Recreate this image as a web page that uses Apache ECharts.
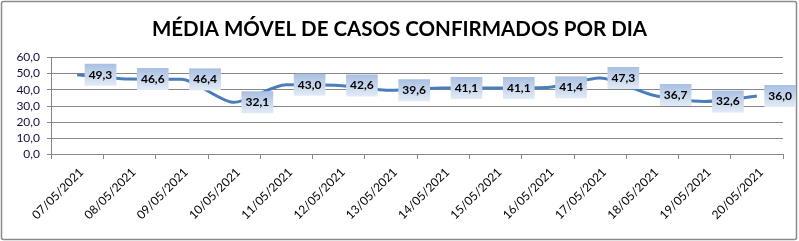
<!DOCTYPE html>
<html>
<head>
<meta charset="utf-8">
<script src="https://cdn.jsdelivr.net/npm/echarts@6/dist/echarts.min.js"></script>
<style>
html,body{margin:0;padding:0;background:#fff;}
#c{width:799px;height:241px;}
</style>
</head>
<body>
<div id="c"></div>
<script>
const titleText = 'MÉDIA MÓVEL DE CASOS CONFIRMADOS POR DIA';
const categories = ['07/05/2021','08/05/2021','09/05/2021','10/05/2021','11/05/2021','12/05/2021','13/05/2021','14/05/2021','15/05/2021','16/05/2021','17/05/2021','18/05/2021','19/05/2021','20/05/2021'];
const values = [49.3,46.6,46.4,32.1,43.0,42.6,39.6,41.1,41.1,41.4,47.3,36.7,32.6,36.0];
const yMin = 0, yMax = 60, yStep = 10;

const chart = echarts.init(document.getElementById('c'), null, {renderer:'canvas'});
const fmt = v => v.toFixed(1).replace('.', ',');
chart.setOption({
  animation:false,
  backgroundColor:'#fff',
  title:{
    text:titleText, left:'center', top:14,
    textStyle:{fontFamily:'Lato', fontWeight:'bold', fontSize:20.5, color:'#000'}
  },
  graphic:[{
    type:'rect', silent:true, z:-1,
    shape:{x:1.5, y:1.5, width:795, height:238, r:2},
    style:{fill:'none', stroke:'#8a8a8a', lineWidth:1.5}
  }],
  grid:{left:51, right:16, top:57.5, bottom:87, containLabel:false},
  xAxis:{
    type:'category', data:categories, boundaryGap:true,
    axisLine:{lineStyle:{color:'#868686', width:1}},
    axisTick:{show:true, length:5, lineStyle:{color:'#868686'}},
    axisLabel:{rotate:45, fontFamily:'Lato', fontSize:12, color:'#000', margin:12, interval:0, verticalAlign:'top'}
  },
  yAxis:{
    type:'value', min:yMin, max:yMax, interval:yStep,
    axisLine:{show:true, lineStyle:{color:'#868686', width:1}},
    axisTick:{show:true, length:4, lineStyle:{color:'#868686'}},
    splitLine:{lineStyle:{color:'#868686', width:1}},
    axisLabel:{formatter:v=>fmt(v), fontFamily:'Lato', fontSize:12, color:'#10103a', margin:11}
  },
  series:[{
    type:'line', data:values, smooth:0.25,
    symbol:'circle', symbolSize:1, showSymbol:true,
    itemStyle:{color:'rgba(0,0,0,0)'},
    lineStyle:{color:'#4a7ebb', width:3},
    label:{
      show:true, position:'right', distance:7,
      formatter:p=>fmt(p.value),
      fontFamily:'Lato', fontWeight:'bold', fontSize:12, color:'#000',
      lineHeight:14, padding:[4,4,4,4],
      backgroundColor:{type:'linear', x:0, y:0, x2:0, y2:1, colorStops:[{offset:0,color:'#a9c0e2'},{offset:1,color:'#e3ebf6'}]}
    },
    labelLayout:{hideOverlap:false},
    z:3
  }]
});
</script>
</body>
</html>
